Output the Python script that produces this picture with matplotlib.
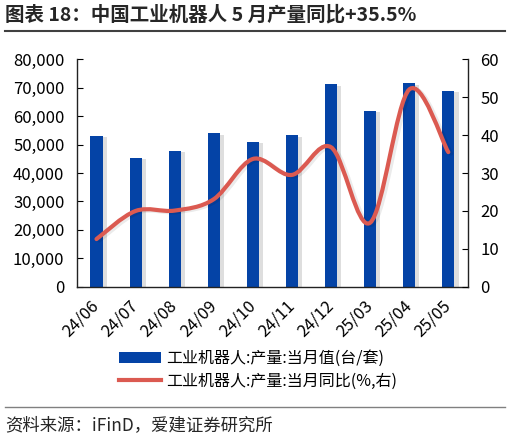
import numpy as np
import matplotlib
matplotlib.use('Agg')
import matplotlib.pyplot as plt
import matplotlib.patheffects as pe
from matplotlib.path import Path
from matplotlib.patches import PathPatch, Patch
from matplotlib.lines import Line2D
from matplotlib.ticker import FuncFormatter

plt.rcParams['font.family'] = ['Noto Sans CJK SC', 'DejaVu Sans']

months = ['24/06', '24/07', '24/08', '24/09', '24/10', '24/11', '24/12', '25/03', '25/04', '25/05']
output = [53000, 45400, 47700, 53900, 50900, 53300, 71200, 61800, 71500, 68800]
yoy = [12.6, 20.0, 20.1, 23.1, 33.7, 29.5, 36.8, 16.9, 52.0, 35.5]

bar_color = '#0443A6'
line_color = '#DB5A51'

fig = plt.figure(figsize=(5.13, 4.38), dpi=100)
ax = fig.add_axes([0.150, 0.345, 0.762, 0.520])
ax2 = ax.twinx()

x = np.arange(len(months))
bars = ax.bar(x, output, width=0.31, color=bar_color, zorder=2)
for b in bars:
    b.set_path_effects([pe.SimplePatchShadow(offset=(3, -1), shadow_rgbFace='k', alpha=0.13), pe.Normal()])

# smoothed line (excel-style bezier through the data points)
pts = np.column_stack([x, yoy]).astype(float)
n = len(pts)
verts = [tuple(pts[0])]
codes = [Path.MOVETO]
for i in range(n - 1):
    p0 = pts[i - 1] if i > 0 else pts[i]
    p3 = pts[i + 2] if i + 2 < n else pts[i + 1]
    c1 = pts[i] + (pts[i + 1] - p0) / 6
    c2 = pts[i + 1] - (p3 - pts[i]) / 6
    verts += [tuple(c1), tuple(c2), tuple(pts[i + 1])]
    codes += [Path.CURVE4] * 3
curve = PathPatch(Path(verts, codes), fill=False, edgecolor=line_color, lw=3, capstyle='round', zorder=3)
curve.set_path_effects([pe.SimpleLineShadow(offset=(2, -1), shadow_color='k', alpha=0.08), pe.Normal()])
ax2.add_patch(curve)

ax.set_xlim(-0.5, len(months) - 0.5)
ax.set_ylim(0, 80000)
ax2.set_ylim(0, 60)
ax.set_yticks(np.arange(0, 80001, 10000))
ax2.set_yticks(np.arange(0, 61, 10))
ax.yaxis.set_major_formatter(FuncFormatter(lambda v, p: f'{v:,.0f}'))

ax.set_xticks(x)
ax.set_xticklabels(months, rotation=45, ha='right', va='center', rotation_mode='anchor')
ax.tick_params(axis='x', length=0, pad=12, labelsize=12)
ax.tick_params(axis='y', direction='in', length=4, pad=9, labelsize=12)
ax2.tick_params(axis='y', direction='in', length=4, pad=9, labelsize=12)

for s in ['top', 'right']:
    ax.spines[s].set_visible(False)
for s in ['top', 'left', 'bottom']:
    ax2.spines[s].set_visible(False)
for a in (ax, ax2):
    for s in a.spines.values():
        s.set_color('#222222')
        s.set_linewidth(1.0)

handles = [Patch(facecolor=bar_color, edgecolor='none'),
           Line2D([], [], color=line_color, lw=3)]
labels = ['工业机器人:产量:当月值(台/套)', '工业机器人:产量:当月同比(%,右)']
fig.legend(handles, labels, loc='center left', bbox_to_anchor=(0.232, 0.155), frameon=False,
           fontsize=11.5, handlelength=2.6, handleheight=0.7, handletextpad=0.35,
           labelspacing=0.35, borderpad=0, borderaxespad=0)

fig.text(5 / 513, 0.966, '图表 18：中国工业机器人 5 月产量同比+35.5%', fontsize=14,
         fontweight='bold', va='center', ha='left', color='#262626')
fig.add_artist(Line2D([0.01, 0.985], [0.929, 0.929], transform=fig.transFigure, color='#404040', lw=1.5))
fig.add_artist(Line2D([0.01, 0.985], [0.071, 0.071], transform=fig.transFigure, color='#808080', lw=1))
fig.text(5 / 513, 0.030, '资料来源：iFinD，爱建证券研究所', fontsize=12.5, va='center', ha='left', color='#262626')

fig.savefig('out.png', dpi=100)
